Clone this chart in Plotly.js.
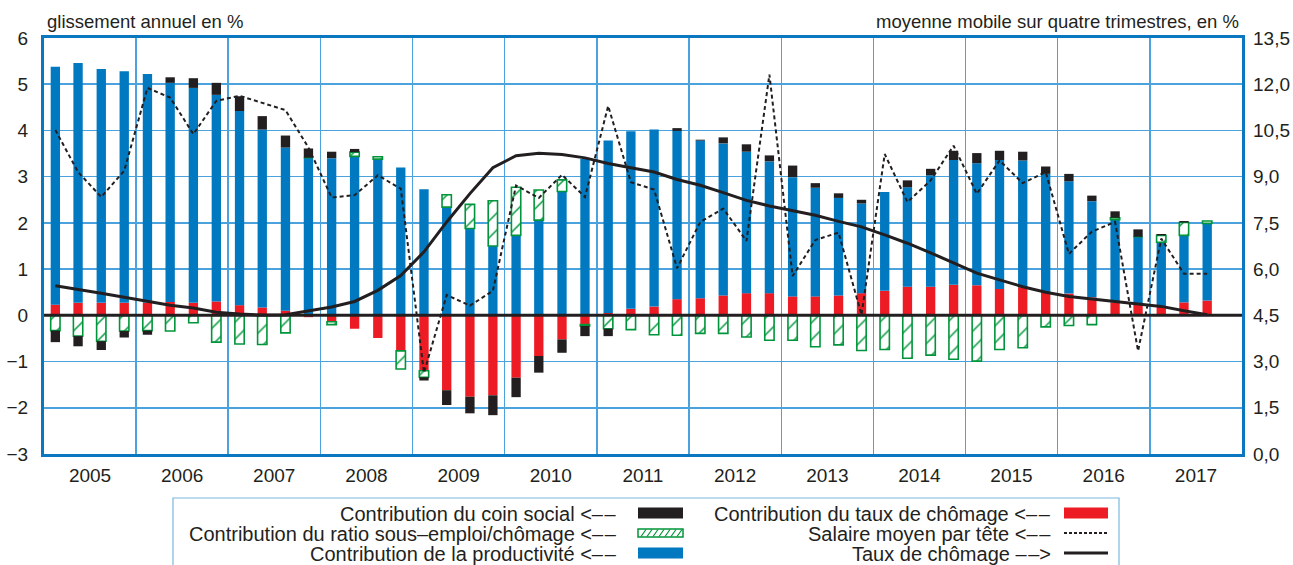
<!DOCTYPE html>
<html><head><meta charset="utf-8">
<script src="https://cdn.plot.ly/plotly-3.0.1.min.js"></script>
<style>html,body{margin:0;padding:0;background:#fff}#chart{width:1293px;height:565px}</style>
</head><body><div id="chart"></div>
<script>
// ---- data (quarterly, 2005T1 - 2017T3) ----
const quarters = [
 '2005T1','2005T2','2005T3','2005T4','2006T1','2006T2','2006T3','2006T4',
 '2007T1','2007T2','2007T3','2007T4','2008T1','2008T2','2008T3','2008T4',
 '2009T1','2009T2','2009T3','2009T4','2010T1','2010T2','2010T3','2010T4',
 '2011T1','2011T2','2011T3','2011T4','2012T1','2012T2','2012T3','2012T4',
 '2013T1','2013T2','2013T3','2013T4','2014T1','2014T2','2014T3','2014T4',
 '2015T1','2015T2','2015T3','2015T4','2016T1','2016T2','2016T3','2016T4',
 '2017T1','2017T2','2017T3'];
// Contribution du taux de chômage (left axis)
const contribChomage = [
 0.23,0.27,0.27,0.27, 0.27,0.29,0.27,0.30, 0.22,0.17,0.10,-0.04, -0.14,-0.29,-0.49,-0.77,
 -1.20,-1.62,-1.76,-1.73, -1.35,-0.88,-0.52,-0.20, 0.05,0.14,0.19,0.35, 0.37,0.43,0.48,0.48,
 0.41,0.41,0.43,0.48, 0.53,0.62,0.62,0.66, 0.65,0.57,0.61,0.50, 0.47,0.39,0.28,0.23,
 0.19,0.28,0.32];
// Contribution de la productivité
const contribProductivite = [
 5.15,5.19,5.06,5.01, 4.95,4.74,4.65,4.47, 4.20,3.85,3.53,3.41, 3.40,3.44,3.38,3.20,
 2.73,2.34,1.88,1.50, 1.73,2.06,2.68,3.38, 3.73,3.84,3.83,3.64, 3.41,3.29,3.06,2.85,
 2.58,2.35,2.11,1.94, 2.14,2.15,2.41,2.70, 2.64,2.79,2.74,2.56, 2.43,2.08,1.79,1.47,
 1.39,1.45,1.67];
// Contribution du ratio sous-emploi/chômage
const contribSousEmploi = [
 -0.33,-0.45,-0.56,-0.34, -0.33,-0.34,-0.16,-0.58, -0.62,-0.63,-0.38,0, -0.06,0.09,0.05,-0.39,
 -0.14,0.27,0.52,0.98, 1.04,0.65,0.25,-0.03, -0.29,-0.31,-0.42,-0.43, -0.39,-0.39,-0.47,-0.54,
 -0.54,-0.68,-0.64,-0.76, -0.74,-0.93,-0.86,-0.95, -0.99,-0.74,-0.70,-0.25, -0.22,-0.20,0.04,0,
 0.15,0.28,0.05];
// Contribution du coin social
const contribCoinSocial = [
 -0.25,-0.22,-0.19,-0.14, -0.09,0.12,0.21,0.26, 0.32,0.29,0.26,0.20, 0.14,0.07,0,0,
 -0.07,-0.32,-0.36,-0.43, -0.42,-0.36,-0.29,-0.22, -0.16,0,0,0.06, 0.02,0.13,0.16,0.13,
 0.25,0.10,0.10,0.08, 0,0.15,0.14,0.20, 0.22,0.20,0.19,0.16, 0.16,0.12,0.14,0.16,
 0.03,0.03,0];
// Salaire moyen par tête (left axis)
const salaireMoyen = [
 4.01,3.10,2.56,3.13, 4.92,4.71,3.92,4.64, 4.75,4.60,4.44,3.63, 2.55,2.60,3.03,2.74,
 -1.24,0.44,0.21,0.53, 2.81,2.54,3.04,2.56, 4.53,2.88,2.72,1.02, 2.02,2.31,1.61,5.21,
 0.85,1.63,1.79,0.01, 3.49,2.45,2.92,3.67, 2.63,3.35,2.86,3.10, 1.33,1.81,2.02,-0.77,
 1.66,0.90,0.90];
// Taux de chômage, moyenne mobile sur quatre trimestres (right axis)
const tauxChomage = [
 5.46,5.35,5.22,5.09, 4.95,4.83,4.74,4.60, 4.54,4.51,4.52,4.65, 4.77,4.95,5.31,5.79,
 6.56,7.53,8.45,9.29, 9.68,9.76,9.72,9.61, 9.43,9.29,9.15,8.91, 8.72,8.48,8.23,8.05,
 7.91,7.75,7.55,7.37, 7.11,6.84,6.53,6.19, 5.87,5.65,5.43,5.25, 5.11,5.03,4.95,4.88,
 4.79,4.65,4.52];

const leftTitle = 'glissement annuel en %';
const rightTitle = 'moyenne mobile sur quatre trimestres, en %';
const ARL = '<\u2013\u200a\u2013', ARR = '\u2013\u200a\u2013>';
const legendLeft = [
 {label:'Contribution du coin social ' + ARL, kind:'black'},
 {label:'Contribution du ratio sous\u2013emploi/chômage ' + ARL, kind:'hatch'},
 {label:'Contribution de la productivité ' + ARL, kind:'blue'}];
const legendRight = [
 {label:'Contribution du taux de chômage ' + ARL, kind:'red'},
 {label:'Salaire moyen par tête ' + ARL, kind:'dot'},
 {label:'Taux de chômage ' + ARR, kind:'solid'}];

// ---- styling ----
const C = {blue:'#0079c1', red:'#ed1c24', black:'#231f20', green:'#00953a',
           frame:'#0a77c0', grid:'#4ba2dc', text:'#231f20', legBorder:'#7ab8e0'};
const FONT = 'Liberation Sans, Arial, Helvetica, sans-serif';
const W = 1293, H = 565, M = {l:44, r:51, t:38, b:111};
const PW = W - M.l - M.r, PH = H - M.t - M.b;
const px = x => (x - M.l) / PW;
const py = y => (H - M.b - y) / PH;

const qMid = ['-02-15','-05-16','-08-16','-11-15'];
const xDates = quarters.map(q => q.slice(0,4) + qMid[+q.slice(5) - 1]);
const barW = 37 * 86400000;

function barTrace(name, vals, color, extra) {
  return Object.assign({type:'bar', name, x:xDates, y:vals, width:barW,
    marker:{color, line:{width:0}}, hoverinfo:'x+y+name'}, extra || {});
}
const traces = [
  barTrace('Contribution du taux de chômage', contribChomage, C.red),
  barTrace('Contribution de la productivité', contribProductivite, C.blue),
  barTrace('Contribution du ratio sous-emploi/chômage', contribSousEmploi, '#ffffff', {
    marker:{color:'#ffffff', line:{color:C.green, width:1.6},
      pattern:{shape:'/', fgcolor:C.green, bgcolor:'#ffffff', size:12, solidity:0.12}}}),
  barTrace('Contribution du coin social', contribCoinSocial, C.black),
  {type:'scatter', mode:'lines', name:'Salaire moyen par tête', x:xDates, y:salaireMoyen,
   line:{color:C.black, width:2, dash:'4px,3px'}},
  {type:'scatter', mode:'lines', name:'Taux de chômage', x:xDates, y:tauxChomage, yaxis:'y2',
   line:{color:C.black, width:3}}
];

// ---- custom legend (text right-aligned, swatch on the right) ----
const annotations = [
  {text:leftTitle, xref:'paper', yref:'paper', x:px(45), y:py(22), xanchor:'left', yanchor:'middle',
   showarrow:false, font:{family:FONT, size:18.5, color:C.text}},
  {text:rightTitle, xref:'paper', yref:'paper', x:px(1241), y:py(22), xanchor:'right', yanchor:'middle',
   showarrow:false, font:{family:FONT, size:18.5, color:C.text}}
];
const shapes = [
  {type:'line', xref:'paper', yref:'y', x0:0, x1:1, y0:0, y1:0, layer:'above',
   line:{color:C.black, width:3}},
  {type:'rect', xref:'paper', yref:'paper', x0:px(173), x1:px(1119), y0:py(498), y1:py(575),
   line:{color:C.legBorder, width:1.2}, fillcolor:'rgba(0,0,0,0)'}
];
const rowsY = [513, 533, 553];
function addLegend(items, textRight, swX0, swX1) {
  items.forEach((it, i) => {
    const yc = rowsY[i];
    annotations.push({text:it.label, xref:'paper', yref:'paper', x:px(textRight), y:py(yc + 1),
      xanchor:'right', yanchor:'middle', showarrow:false, font:{family:FONT, size:20, color:C.text}});
    if (it.kind === 'black' || it.kind === 'blue' || it.kind === 'red') {
      const col = it.kind === 'black' ? C.black : it.kind === 'blue' ? C.blue : C.red;
      shapes.push({type:'rect', xref:'paper', yref:'paper', x0:px(swX0), x1:px(swX1),
        y0:py(yc + 5.5), y1:py(yc - 5.5), fillcolor:col, line:{width:0}});
    } else if (it.kind === 'hatch') {
      shapes.push({type:'rect', xref:'paper', yref:'paper', x0:px(swX0), x1:px(swX1),
        y0:py(yc + 4), y1:py(yc - 4), fillcolor:'#ffffff', line:{color:C.green, width:1.5}});
      let d = '';
      for (let x = swX0 + 3; x < swX1 - 4; x += 6) {
        d += `M${px(x)},${py(yc + 3.5)} L${px(x + 5)},${py(yc - 3.5)} `;
      }
      shapes.push({type:'path', xref:'paper', yref:'paper', path:d, line:{color:C.green, width:1.2}});
    } else if (it.kind === 'dot') {
      shapes.push({type:'line', xref:'paper', yref:'paper', x0:px(swX0), x1:px(swX1),
        y0:py(yc), y1:py(yc), line:{color:C.black, width:2, dash:'3px,2px'}});
    } else if (it.kind === 'solid') {
      shapes.push({type:'line', xref:'paper', yref:'paper', x0:px(swX0), x1:px(swX1),
        y0:py(yc), y1:py(yc), line:{color:C.black, width:3}});
    }
  });
}
addLegend(legendLeft, 619, 638, 683);
addLegend(legendRight, 1053, 1064, 1108);

const axisLine = {showline:true, mirror:true, linecolor:C.frame, linewidth:3};
const layout = {
  width:W, height:H, margin:M, paper_bgcolor:'#fff', plot_bgcolor:'#fff',
  barmode:'relative', showlegend:false, separators:', ',
  font:{family:FONT, color:C.text, size:19},
  xaxis:Object.assign({type:'date', range:['2005-01-01','2018-01-01'], tick0:'2005-01-01', dtick:'M12',
    ticklabelmode:'period', tickformat:'%Y', ticks:'', showgrid:true, gridcolor:C.grid, gridwidth:1.5,
    zeroline:false, ticklabelstandoff:2, tickfont:{size:19}}, axisLine),
  yaxis:Object.assign({range:[-3,6], tick0:0, dtick:1, ticks:'', showgrid:true, gridcolor:C.grid,
    gridwidth:1.5, zeroline:false, ticklabelstandoff:9, tickfont:{size:19}}, axisLine),
  yaxis2:{overlaying:'y', side:'right', range:[0,13.5], tick0:0, dtick:1.5, tickformat:'.1f',
    ticks:'', showgrid:false, zeroline:false, showline:false, ticklabelstandoff:10, tickfont:{size:19}},
  annotations, shapes
};
Plotly.newPlot('chart', traces, layout, {displayModeBar:false, staticPlot:true});
</script></body></html>
